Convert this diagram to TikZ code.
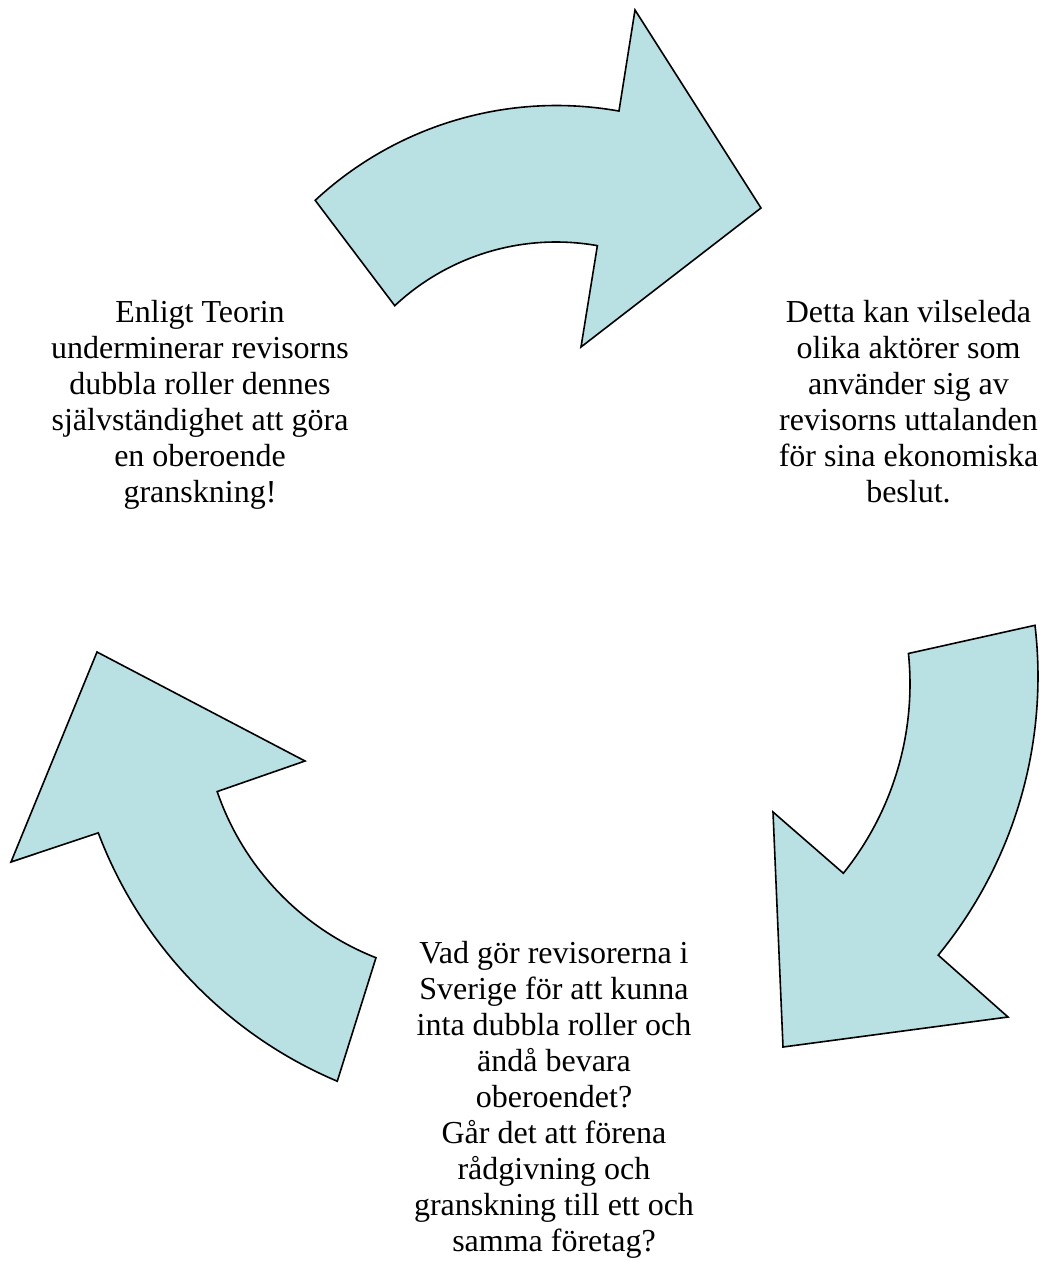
\documentclass[tikz,border=0pt]{standalone}
\usepackage{fontspec}
\setmainfont{Liberation Serif}
\usepackage{tikz}
\definecolor{arrowfill}{RGB}{185,224,227}

\begin{document}
\begin{tikzpicture}[x=1pt,y=-1pt,
    every node/.style={align=center,inner sep=0,anchor=base,font={\fontsize{32}{36}\selectfont}},
    cyclearrow/.style={fill=arrowfill,draw=black,line width=1.6pt,line join=miter}]
  \useasboundingbox (0,0) rectangle (1042,1261);
  % top arrow
  \filldraw[cyclearrow] ([shift={(-132.9:354.5)}]556.5,460) arc[start angle=-132.9,end angle=-79.85,radius=354.5]
    -- (635,10) -- (761,208) -- (581,347)
    -- ([shift={(-79.9:236)}]556,478) arc[start angle=-79.9,end angle=-133.1,radius=236] -- cycle;
  % right arrow
  \filldraw[cyclearrow] ([shift={(-6.7:439)}]599,676.5) arc[start angle=-6.7,end angle=39.4,radius=439]
    -- (1008,1017) -- (783,1047) -- (773,812)
    -- ([shift={(38.8:302)}]608,684) arc[start angle=38.8,end angle=-5.8,radius=302] -- cycle;
  % left arrow
  \filldraw[cyclearrow] ([shift={(112.9:437.5)}]507.5,678.2) arc[start angle=112.9,end angle=159.3,radius=437.5]
    -- (11,862) -- (97,652) -- (305,761)
    -- ([shift={(161.1:274)}]476.4,702.8) arc[start angle=161.1,end angle=111.5,radius=274] -- cycle;

  % texts, placed at the baseline of their last line
  \node (theory) at (200,502) {Enligt Teorin\\underminerar revisorns\\dubbla roller dennes\\självständighet att göra\\en oberoende\\granskning!};
  \node (mislead) at (908.5,502) {Detta kan vilseleda\\olika aktörer som\\använder sig av\\revisorns uttalanden\\för sina ekonomiska\\beslut.};
  \node (question) at (554,1251) {Vad gör revisorerna i\\Sverige för att kunna\\inta dubbla roller och\\ändå bevara\\oberoendet?\\Går det att förena\\rådgivning och\\granskning till ett och\\samma företag?};
\end{tikzpicture}
\end{document}
